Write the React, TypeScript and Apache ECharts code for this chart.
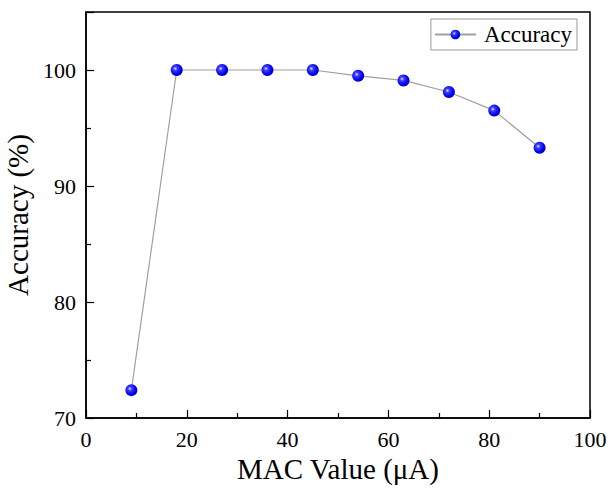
import React, { useEffect, useRef } from "react";
import * as echarts from "echarts";

const macValues = [9, 18, 27, 36, 45, 54, 63, 72, 81, 90];
const accuracy = [72.4, 100, 100, 100, 100, 99.5, 99.1, 98.1, 96.5, 93.3];
const seriesName = "Accuracy";
const xAxisName = "MAC Value (μA)";
const yAxisName = "Accuracy (%)";

const FONT = "'Liberation Serif', 'Times New Roman', serif";

export default function App() {
  const ref = useRef<HTMLDivElement>(null);
  useEffect(() => {
    if (!ref.current) return;
    const chart = echarts.init(ref.current, undefined, { renderer: "svg" });
    const ball = {
      type: "radial",
      x: 0.38,
      y: 0.38,
      r: 0.7,
      colorStops: [
        { offset: 0, color: "#e0e8ff" },
        { offset: 0.25, color: "#3a3aff" },
        { offset: 0.7, color: "#0000ee" },
        { offset: 1, color: "#0000a0" },
      ],
    };
    chart.setOption({
      animation: false,
      backgroundColor: "#ffffff",
      grid: {
        left: 86,
        right: 19,
        top: 12,
        bottom: 74,
        containLabel: false,
        outerBoundsMode: "none",
        show: true,
        borderColor: "#000",
        borderWidth: 1.5,
        backgroundColor: "transparent",
      },
      legend: {
        show: true,
        right: 32,
        top: 19,
        padding: [4, 5, 4, 3],
        itemWidth: 41,
        itemHeight: 12,
        itemGap: 4,
        borderColor: "#999",
        borderWidth: 1,
        borderRadius: 0,
        textStyle: { fontFamily: FONT, fontSize: 23, color: "#000", padding: [0, 0, 0, 3] },
        data: [{ name: seriesName }],
      },
      xAxis: {
        type: "value",
        min: 0,
        max: 100,
        interval: 20,
        name: xAxisName,
        nameLocation: "middle",
        nameGap: 36,
        nameTextStyle: { fontFamily: FONT, fontSize: 29, color: "#000" },
        axisLine: { show: true, lineStyle: { color: "#000", width: 1.5 } },
        axisTick: { show: true, inside: true, length: 8, lineStyle: { color: "#000", width: 1.2 } },
        minorTick: { show: true, splitNumber: 2, length: 5, lineStyle: { color: "#000", width: 1.2 } },
        axisLabel: { fontFamily: FONT, fontSize: 22, color: "#000", margin: 10 },
        splitLine: { show: false },
      },
      yAxis: {
        type: "value",
        min: 70,
        max: 105,
        interval: 10,
        name: yAxisName,
        nameLocation: "middle",
        nameGap: 44,
        nameRotate: 90,
        nameTextStyle: { fontFamily: FONT, fontSize: 29, color: "#000" },
        axisLine: { show: true, lineStyle: { color: "#000", width: 1.5 } },
        axisTick: { show: true, inside: true, length: 8, lineStyle: { color: "#000", width: 1.2 } },
        minorTick: { show: true, splitNumber: 2, length: 5, lineStyle: { color: "#000", width: 1.2 } },
        axisLabel: {
          fontFamily: FONT,
          fontSize: 22,
          color: "#000",
          margin: 10,
          formatter: (v: number) => (v > 100 ? "" : String(v)),
        },
        splitLine: { show: false },
      },
      series: [
        {
          name: seriesName,
          type: "line",
          data: macValues.map((x, i) => [x, accuracy[i]]),
          symbol: "circle",
          symbolSize: 12,
          lineStyle: { color: "#a0a0a0", width: 1.2 },
          itemStyle: { color: ball as any, borderWidth: 0 },
        },
      ],
    });
    return () => chart.dispose();
  }, []);
  return (
    <div
      ref={ref}
      style={{ position: "fixed", left: 0, top: 0, width: 609, height: 492 }}
    />
  );
}
